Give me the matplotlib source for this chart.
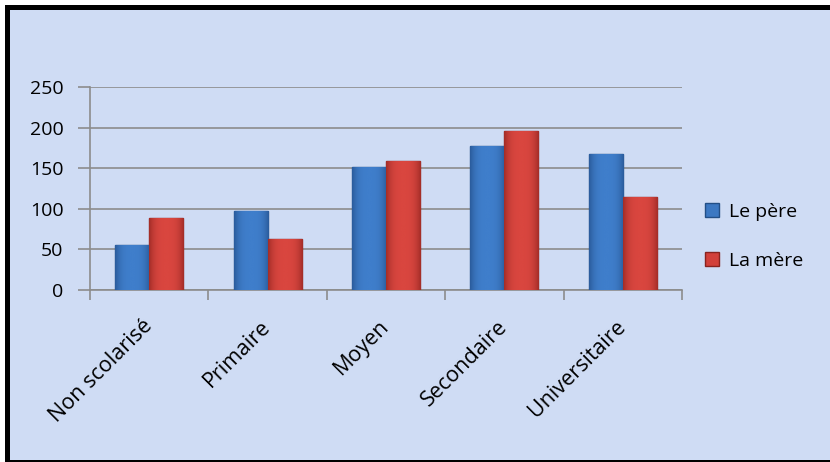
import matplotlib.pyplot as plt
from matplotlib.patches import Rectangle
from matplotlib.colors import LinearSegmentedColormap
import numpy as np

categories = ['Non scolarisé', 'Primaire', 'Moyen', 'Secondaire', 'Universitaire']
pere = [56, 97, 151, 177, 168]
mere = [89, 63, 159, 196, 115]
series_labels = ['Le père', 'La mère']

plt.rcParams['font.family'] = ['Open Sans', 'DejaVu Sans']

W, H = 830, 462
fig = plt.figure(figsize=(W / 100, H / 100), dpi=100)
fig.patch.set_facecolor('white')

# background panel and black frame (thick top/left, thin bottom)
fig.add_artist(Rectangle((5 / W, 0), 1 - 5 / W, 1 - 5 / H, transform=fig.transFigure,
                         facecolor='#cfdcf4', edgecolor='none', zorder=-10))
fig.add_artist(Rectangle((5 / W, 1 - 10 / H), 1 - 5 / W, 5 / H, transform=fig.transFigure,
                         facecolor='black', edgecolor='none', zorder=-5))
fig.add_artist(Rectangle((5 / W, 0), 5 / W, 1 - 5 / H, transform=fig.transFigure,
                         facecolor='black', edgecolor='none', zorder=-5))
fig.add_artist(Rectangle((5 / W, 0), 1 - 5 / W, 2 / H, transform=fig.transFigure,
                         facecolor='black', edgecolor='none', zorder=-5))

ax = fig.add_axes([90 / W, 1 - 290 / H, (682 - 90) / W, (290 - 87) / H])
ax.set_facecolor('none')

x = np.arange(len(categories))
w = 0.288
bars_p = ax.bar(x - w / 2, pere, w, color='#3c78c2', edgecolor='#234f86', linewidth=1.0,
                label=series_labels[0], zorder=3)
bars_m = ax.bar(x + w / 2, mere, w, color='#d2403a', edgecolor='#88231f', linewidth=1.0,
                label=series_labels[1], zorder=3)

# bevel-like shading inside each bar
grad = np.linspace(-1, 1, 64)
shade = 1 - np.abs(grad) ** 3
cmaps = {
    'p': LinearSegmentedColormap.from_list('p', ['#2b5c9c', '#3f7ecb']),
    'm': LinearSegmentedColormap.from_list('m', ['#a32d28', '#d9463f']),
}
for key, bars in (('p', bars_p), ('m', bars_m)):
    for b in bars:
        x0, y0 = b.get_x(), b.get_y()
        im = ax.imshow(shade[np.newaxis, :], cmap=cmaps[key], aspect='auto',
                       extent=(x0, x0 + b.get_width(), y0, y0 + b.get_height()),
                       zorder=3.5, vmin=0, vmax=1)
        im.set_clip_path(b)
ax.set_xlim(-0.5, len(categories) - 0.5)
ax.set_ylim(0, 250)

ax.set_yticks([0, 50, 100, 150, 200, 250])
ax.yaxis.grid(True, color='#8c8c8c', linewidth=1.2)
ax.set_axisbelow(True)

for s in ['top', 'right']:
    ax.spines[s].set_visible(False)
for s in ['left', 'bottom']:
    ax.spines[s].set_color('#8c8c8c')
    ax.spines[s].set_linewidth(1.2)

ax.set_xticks(np.arange(len(categories) + 1) - 0.5)
ax.set_xticklabels([])
ax.set_xticks(x, minor=True)
ax.set_xticklabels(categories, minor=True, rotation=45, ha='right', va='center',
                   rotation_mode='anchor', fontsize=15.5)
ax.tick_params(axis='x', which='major', length=7, color='#8c8c8c', width=1.2)
ax.tick_params(axis='x', which='minor', length=0, pad=24)
ax.tick_params(axis='y', length=9, color='#8c8c8c', width=1.2, labelsize=14, pad=10)

ax.legend(loc='center left', bbox_to_anchor=(1.01, 0.265), frameon=False, fontsize=14,
          handlelength=0.7, handleheight=0.7, handletextpad=0.5, labelspacing=1.6)

fig.savefig('out.png', dpi=100, facecolor=fig.get_facecolor())
